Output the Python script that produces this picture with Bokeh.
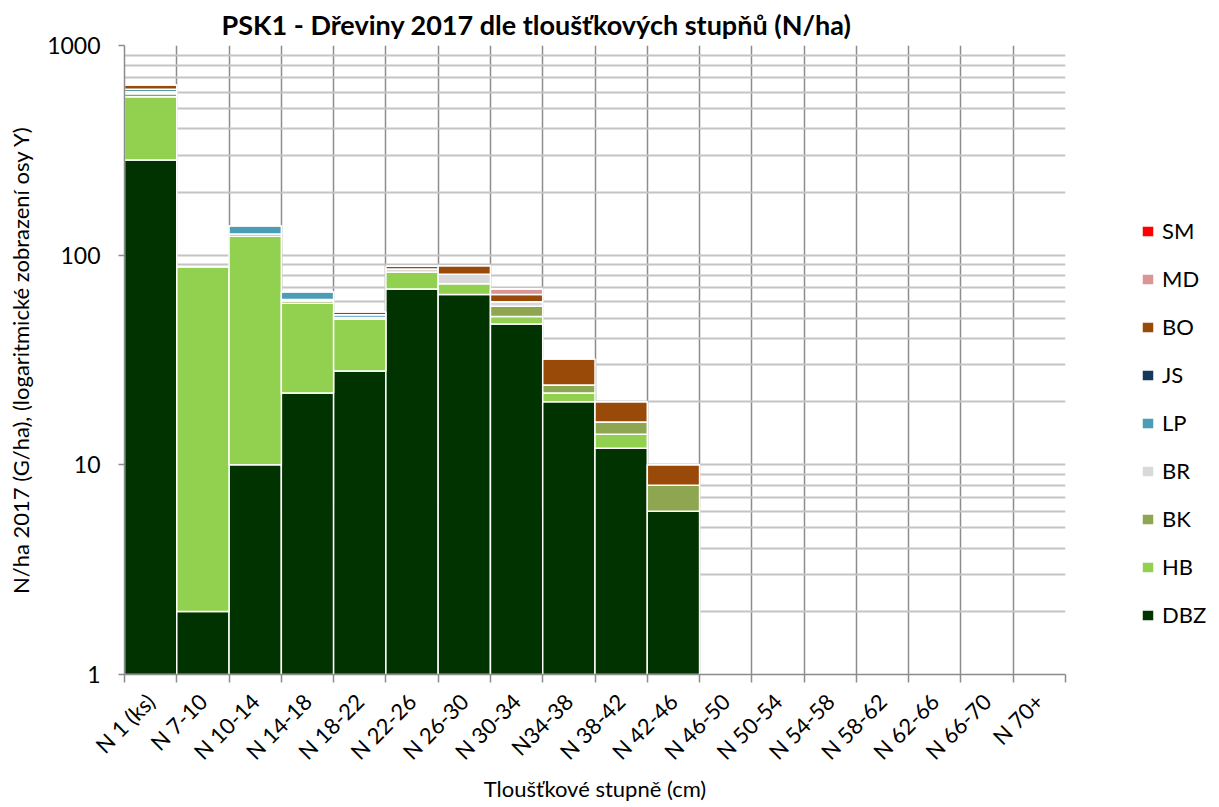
import numpy as np
from bokeh.plotting import figure
from bokeh.models import ColumnDataSource, FixedTicker, Legend, LegendItem, Range1d
from bokeh.embed import file_html
from bokeh.resources import INLINE

categories = ["N 1 (ks)", "N 7-10", "N 10-14", "N 14-18", "N 18-22", "N 22-26",
              "N 26-30", "N 30-34", "N34-38", "N 38-42", "N 42-46", "N 46-50",
              "N 50-54", "N 54-58", "N 58-62", "N 62-66", "N 66-70", "N 70+"]

# stacked from bottom to top
DBZ = [284, 2, 10, 22, 28, 69, 65, 47, 20, 12, 6, 0, 0, 0, 0, 0, 0, 0]
HB  = [285, 86, 113, 37, 21.5, 14, 8, 4, 2, 2, 0, 0, 0, 0, 0, 0, 0, 0]
BK  = [20, 0, 3, 1.5, 0, 0, 0, 6, 2, 2, 2, 0, 0, 0, 0, 0, 0, 0]
BR  = [12, 0, 0, 1, 1, 3, 8, 3, 0, 0, 0, 0, 0, 0, 0, 0, 0, 0]
LP  = [17, 0, 12, 5.5, 1.5, 0, 0, 0, 0, 0, 0, 0, 0, 0, 0, 0, 0, 0]
JS  = [0] * 18
BO  = [30, 0, 0, 0, 1.5, 2.5, 8, 5, 8, 4, 2, 0, 0, 0, 0, 0, 0, 0]
MD  = [0, 0, 0, 0, 0, 0, 0, 4, 0, 0, 0, 0, 0, 0, 0, 0, 0, 0]
SM  = [0] * 18

species = ["DBZ", "HB", "BK", "BR", "LP", "JS", "BO", "MD", "SM"]
series = {"DBZ": DBZ, "HB": HB, "BK": BK, "BR": BR, "LP": LP,
          "JS": JS, "BO": BO, "MD": MD, "SM": SM}
colors = {"DBZ": "#003300", "HB": "#92D050", "BK": "#8DA64F", "BR": "#D9D9D9",
          "LP": "#4A9DB5", "JS": "#17375E", "BO": "#9A4A08", "MD": "#D99694",
          "SM": "#FF0000"}

FONT = "Lato"
n = len(categories)
xs = list(range(n))

p = figure(frame_width=941, frame_height=629,
           x_range=Range1d(-0.5, n - 0.5), y_range=Range1d(1, 1000),
           y_axis_type="log", output_backend="svg", toolbar_location=None,
           min_border_left=124, min_border_right=138, min_border_top=44,
           min_border_bottom=118,
           title="PSK1 - Dřeviny 2017 dle tloušťkových stupňů (N/ha)")

p.outline_line_color = None
p.title.text_font = FONT
p.title.text_font_size = "27px"
p.title.text_font_style = "bold"
p.title.align = "left"
p.title.offset = 97
p.title.text_color = "#000000"

cum = np.zeros(n)
renderers = {}
for sp in species:
    vals = np.array(series[sp], dtype=float)
    bottom = np.maximum(cum, 1.0)
    top = cum + vals
    # species without any trees keep zero-height entries so that the legend shows them
    mask = vals > 0 if vals.any() else cum > 0
    src = ColumnDataSource(dict(
        x=[xs[i] for i in range(n) if mask[i]],
        bottom=bottom[mask].tolist(),
        top=top[mask].tolist(),
    ))
    r = p.vbar(x="x", bottom="bottom", top="top", width=1.0, source=src,
               fill_color=colors[sp], line_color="white", line_width=1.5)
    renderers[sp] = r
    cum = top

# axes
xa = p.xaxis[0]
xa.ticker = FixedTicker(ticks=xs, minor_ticks=[i - 0.5 for i in range(n + 1)])
xa.major_label_overrides = {i: c for i, c in zip(xs, categories)}
xa.major_tick_line_color = None
xa.minor_tick_line_color = "#8c8c8c"
xa.minor_tick_line_width = 1.5
xa.minor_tick_out = 8
xa.minor_tick_in = 0
xa.axis_line_color = "#8c8c8c"
xa.axis_line_width = 1.5
xa.major_label_orientation = np.pi / 4
xa.major_label_text_font = FONT
xa.major_label_text_font_size = "22px"
xa.major_label_text_color = "#000000"
xa.major_label_standoff = 15
xa.axis_label = "Tloušťkové stupně (cm)"
xa.axis_label_text_font = FONT
xa.axis_label_text_font_size = "22px"
xa.axis_label_text_font_style = "normal"
xa.axis_label_text_color = "#000000"
xa.axis_label_standoff = -2

ya = p.yaxis[0]
minor = [k * 10 ** e for e in range(3) for k in range(2, 10)]
ya.ticker = FixedTicker(ticks=[1, 10, 100, 1000], minor_ticks=minor)
ya.major_label_overrides = {1: "1", 10: "10", 100: "100", 1000: "1000"}
ya.minor_tick_line_color = None
ya.major_tick_line_color = "#8c8c8c"
ya.major_tick_line_width = 1.5
ya.major_tick_out = 6
ya.major_tick_in = 0
ya.axis_line_color = "#8c8c8c"
ya.axis_line_width = 1.5
ya.major_label_text_font = FONT
ya.major_label_text_font_size = "23px"
ya.major_label_text_color = "#000000"
ya.major_label_standoff = 18
ya.axis_label = "N/ha 2017 (G/ha), (logaritmické zobrazení osy Y)"
ya.axis_label_text_font = FONT
ya.axis_label_text_font_size = "22px"
ya.axis_label_text_font_style = "normal"
ya.axis_label_text_color = "#000000"
ya.axis_label_standoff = 10

# grids
p.xgrid.grid_line_color = None
p.xgrid.minor_grid_line_color = "#8c8c8c"
p.xgrid.minor_grid_line_width = 1.5
p.ygrid.grid_line_color = "#c4c4c4"
p.ygrid.grid_line_width = 2
p.ygrid.minor_grid_line_color = "#c4c4c4"
p.ygrid.minor_grid_line_width = 2

legend = Legend(
    items=[LegendItem(label=sp, renderers=[renderers[sp]]) for sp in reversed(species)],
    location=(75, 46), glyph_width=15, glyph_height=14, label_height=20,
    spacing=21, label_standoff=7, label_text_font=FONT,
    label_text_font_size="22px", label_text_color="#000000",
    border_line_color=None, background_fill_alpha=0, padding=0, margin=0,
)
p.add_layout(legend, "right")

open("out.html", "w").write(file_html(p, INLINE))
